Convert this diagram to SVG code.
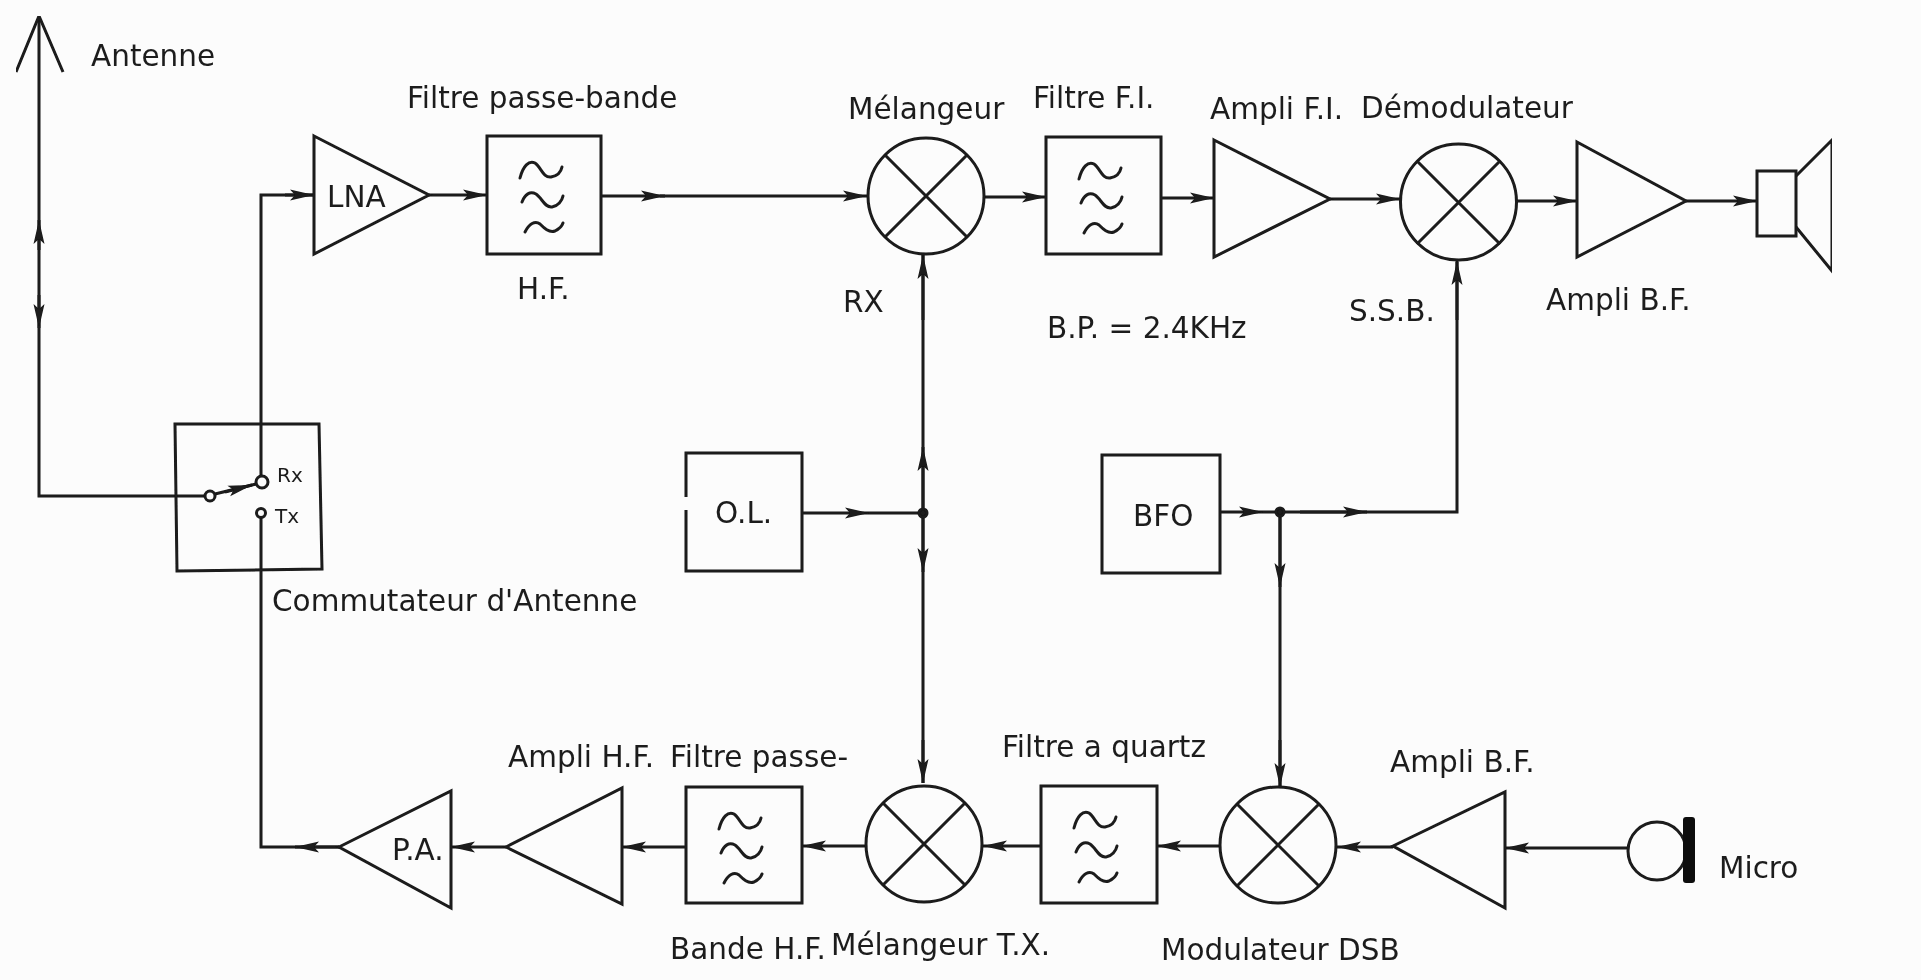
<svg xmlns="http://www.w3.org/2000/svg" width="1921" height="980" viewBox="0 0 1921 980">
<defs>
<marker id="a" markerUnits="userSpaceOnUse" markerWidth="26" markerHeight="14" refX="24" refY="7" orient="auto"><path d="M0 1.5L5 7L0 12.5L24 7z" fill="#1a1a1a"/></marker>
<path id="waves" d="M33 42C36 30 42 24 48 27C54 31 56 42 64 41C70 40 74 36 75 31M35 66C38 58 43 55 49 58C55 62 58 72 65 71C71 70 75 65 76 60M38 96C42 88 48 84 53 88C57 92 62 97 68 95C72 93 75 90 76 87" fill="none" stroke="#1f1f1f" stroke-width="3" stroke-linecap="round"/>
<filter id="soft" x="0" y="0" width="100%" height="100%"><feGaussianBlur stdDeviation="0.6"/></filter>
</defs>
<style>
.s{fill:none;stroke:#1a1a1a;stroke-width:3}
text{font-family:"DejaVu Sans",sans-serif;font-size:29.5px;fill:#1f1f1f;stroke:none}
.h{font-size:20px}
</style>
<rect width="1921" height="980" fill="#fcfcfc"/>
<g filter="url(#soft)">
<g id="connectors" class="s">
<path d="M39 18V496H205"/>
<path d="M39 250V220" marker-end="url(#a)"/>
<path d="M39 295V328" marker-end="url(#a)"/>
<path d="M261 476V195H314"/>
<path d="M285 195H314" marker-end="url(#a)"/>
<path d="M429 195H487" marker-end="url(#a)"/>
<path d="M601 196H665" marker-end="url(#a)"/>
<path d="M660 196H867" marker-end="url(#a)"/>
<path d="M985 197H1046" marker-end="url(#a)"/>
<path d="M1161 198H1214" marker-end="url(#a)"/>
<path d="M1330 199H1400" marker-end="url(#a)"/>
<path d="M1517 201H1577" marker-end="url(#a)"/>
<path d="M1686 201H1757" marker-end="url(#a)"/>
<path d="M923 783V255"/>
<path d="M923 513V447" marker-end="url(#a)"/>
<path d="M923 513V572" marker-end="url(#a)"/>
<path d="M923 320V255" marker-end="url(#a)"/>
<path d="M923 740V783" marker-end="url(#a)"/>
<path d="M802 513H869" marker-end="url(#a)"/>
<path d="M869 513H923"/>
<path d="M1220 512H1263" marker-end="url(#a)"/>
<path d="M1263 512H1457V262"/>
<path d="M1300 512H1367" marker-end="url(#a)"/>
<path d="M1457 320V261" marker-end="url(#a)"/>
<path d="M1280 512V787"/>
<path d="M1280 512V587" marker-end="url(#a)"/>
<path d="M1280 740V787" marker-end="url(#a)"/>
<path d="M1629 848H1505" marker-end="url(#a)"/>
<path d="M1393 847H1337" marker-end="url(#a)"/>
<path d="M1220 846H1157" marker-end="url(#a)"/>
<path d="M1041 846H983" marker-end="url(#a)"/>
<path d="M866 846H802" marker-end="url(#a)"/>
<path d="M686 847H622" marker-end="url(#a)"/>
<path d="M506 847H451" marker-end="url(#a)"/>
<path d="M339 847H261V518"/>
<path d="M339 847H295" marker-end="url(#a)"/>
<path d="M215 494L256 484"/>
<path d="M225 492L252 485" marker-end="url(#a)"/>
<circle cx="923" cy="513" r="4" fill="#1a1a1a"/>
<circle cx="1280" cy="512" r="4" fill="#1a1a1a"/>
</g>
<g id="antenna" class="s"><path d="M16 72L39 16L63 72"/><text x="91" y="66">Antenne</text></g>
<g id="commutateur" class="s">
<path d="M175 424H319L322 569L177 571Z"/>
<circle cx="210" cy="496" r="5" fill="#fcfcfc"/><circle cx="262" cy="482" r="6" fill="#fcfcfc"/><circle cx="261" cy="513" r="4.5" fill="#fcfcfc"/>
<text class="h" x="277" y="482">Rx</text><text class="h" x="275" y="523">Tx</text>
<text x="272" y="611">Commutateur d'Antenne</text>
</g>
<g id="lna" class="s"><path d="M314 136L429 195L314 254Z"/><text x="327" y="207">LNA</text></g>
<g id="filtre-hf" class="s"><rect x="487" y="136" width="114" height="118"/><use href="#waves" x="487" y="136"/><text x="407" y="108">Filtre passe-bande</text><text x="517" y="299">H.F.</text></g>
<g id="melangeur" class="s"><circle cx="926" cy="196" r="58"/><path d="M885 155L967 237M967 155L885 237"/><text x="848" y="119">Mélangeur</text><text x="843" y="312">RX</text></g>
<g id="filtre-fi" class="s"><rect x="1046" y="137" width="115" height="117"/><use href="#waves" x="1046" y="137"/><text x="1033" y="108">Filtre F.I.</text><text x="1047" y="338">B.P. = 2.4KHz</text></g>
<g id="ampli-fi" class="s"><path d="M1214 140L1330 199L1214 257Z"/><text x="1210" y="119">Ampli F.I.</text></g>
<g id="demodulateur" class="s"><circle cx="1458.500" cy="202" r="58"/><path d="M1417 161L1500 244M1500 161L1417 244"/><text x="1361" y="118">Démodulateur</text><text x="1349" y="321">S.S.B.</text></g>
<g id="ampli-bf-rx" class="s"><path d="M1577 142L1686 201L1577 257Z"/><text x="1546" y="310">Ampli B.F.</text></g>
<g id="speaker" class="s"><rect x="1757" y="171" width="39" height="65"/><path d="M1796 176L1832 140V271L1796 227"/></g>
<g id="ol" class="s"><path d="M686 497V453H802V571H686V510"/><text x="715" y="523">O.L.</text></g>
<g id="bfo" class="s"><rect x="1102" y="455" width="118" height="118"/><text x="1133" y="526">BFO</text></g>
<g id="modulateur" class="s"><circle cx="1278" cy="845" r="58"/><path d="M1237 804L1319 886M1319 804L1237 886"/><text x="1161" y="960">Modulateur DSB</text></g>
<g id="filtre-quartz" class="s"><rect x="1041" y="786" width="116" height="117"/><use href="#waves" x="1041" y="786"/><text x="1002" y="757">Filtre a quartz</text></g>
<g id="melangeur-tx" class="s"><circle cx="924" cy="844" r="58"/><path d="M883 803L965 885M965 803L883 885"/><text x="831" y="955">Mélangeur T.X.</text></g>
<g id="filtre-bande" class="s"><rect x="686" y="787" width="116" height="116"/><use href="#waves" x="686" y="787"/><text x="670" y="767">Filtre passe-</text><text x="670" y="959">Bande H.F.</text></g>
<g id="ampli-hf" class="s"><path d="M506 847L622 788V904Z"/><text x="508" y="767">Ampli H.F.</text></g>
<g id="pa" class="s"><path d="M339 847L451 791V908Z"/><text x="392" y="860">P.A.</text></g>
<g id="ampli-bf-tx" class="s"><path d="M1393 846L1505 792V908Z"/><text x="1390" y="772">Ampli B.F.</text></g>
<g id="micro" class="s"><circle cx="1657" cy="851" r="29"/><rect x="1683" y="817" width="12" height="66" rx="3" fill="#111" stroke="none"/><text x="1719" y="878">Micro</text></g>
</g>
</svg>
